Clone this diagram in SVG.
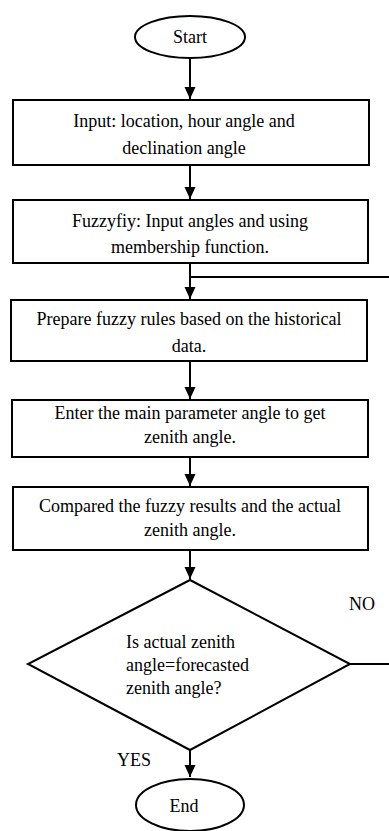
<svg xmlns="http://www.w3.org/2000/svg" width="389" height="831" viewBox="0 0 389 831">
  <style>
    .shape { fill: #ffffff; stroke: #000000; stroke-width: 2; }
    .line { fill: none; stroke: #000000; stroke-width: 2; }
    text { font-family: "Liberation Serif", "Times New Roman", serif; font-size: 18px; fill: #000000; }
    .c { text-anchor: middle; }
  </style>
  <defs>
    <marker id="arrow" viewBox="0 0 12 12" refX="12" refY="6" markerWidth="12" markerHeight="12" markerUnits="userSpaceOnUse" orient="auto">
      <path d="M0,0.5 L12,6 L0,11.5 Z" fill="#000000"/>
    </marker>
  </defs>

  <g id="connectors">
    <path class="line" d="M190,59 V99" marker-end="url(#arrow)"/>
    <path class="line" d="M190,165 V199" marker-end="url(#arrow)"/>
    <path class="line" d="M190,263 V299" marker-end="url(#arrow)"/>
    <path class="line" d="M190,277 H389"/>
    <path class="line" d="M190,361 V399" marker-end="url(#arrow)"/>
    <path class="line" d="M190,457 V486" marker-end="url(#arrow)"/>
    <path class="line" d="M190,550 V579" marker-end="url(#arrow)"/>
    <path class="line" d="M350,664 H389"/>
    <path class="line" d="M190,750 V777" marker-end="url(#arrow)"/>
  </g>

  <g id="start">
    <ellipse class="shape" cx="190" cy="37" rx="55" ry="21"/>
    <text class="c" x="190" y="43">Start</text>
  </g>

  <g id="input">
    <rect class="shape" x="13" y="100" width="356" height="65"/>
    <text class="c" x="184" y="127">Input: location, hour angle and</text>
    <text class="c" x="184" y="154">declination angle</text>
  </g>

  <g id="fuzzify">
    <rect class="shape" x="13" y="200" width="355" height="63"/>
    <text class="c" x="190" y="227">Fuzzyfiy: Input angles and using</text>
    <text class="c" x="190" y="253">membership function.</text>
  </g>

  <g id="rules">
    <rect class="shape" x="11" y="300" width="356" height="61"/>
    <text class="c" x="189" y="325">Prepare fuzzy rules based on the historical</text>
    <text class="c" x="189" y="352">data.</text>
  </g>

  <g id="enter">
    <rect class="shape" x="12" y="400" width="356" height="57"/>
    <text class="c" x="190" y="419">Enter the main parameter angle to get</text>
    <text class="c" x="190" y="443">zenith angle.</text>
  </g>

  <g id="compare">
    <rect class="shape" x="13" y="487" width="355" height="63"/>
    <text class="c" x="190" y="512">Compared the fuzzy results and the actual</text>
    <text class="c" x="190" y="536">zenith angle.</text>
  </g>

  <g id="decision">
    <polygon class="shape" points="190,580 350,664 190,750 28,664"/>
    <text x="126" y="648">Is actual zenith</text>
    <text x="126" y="671">angle=forecasted</text>
    <text x="126" y="694">zenith angle?</text>
    <text x="349" y="610">NO</text>
    <text x="117" y="766">YES</text>
  </g>

  <g id="end">
    <ellipse class="shape" cx="190" cy="805" rx="54" ry="26"/>
    <text class="c" x="184" y="812">End</text>
  </g>
</svg>
